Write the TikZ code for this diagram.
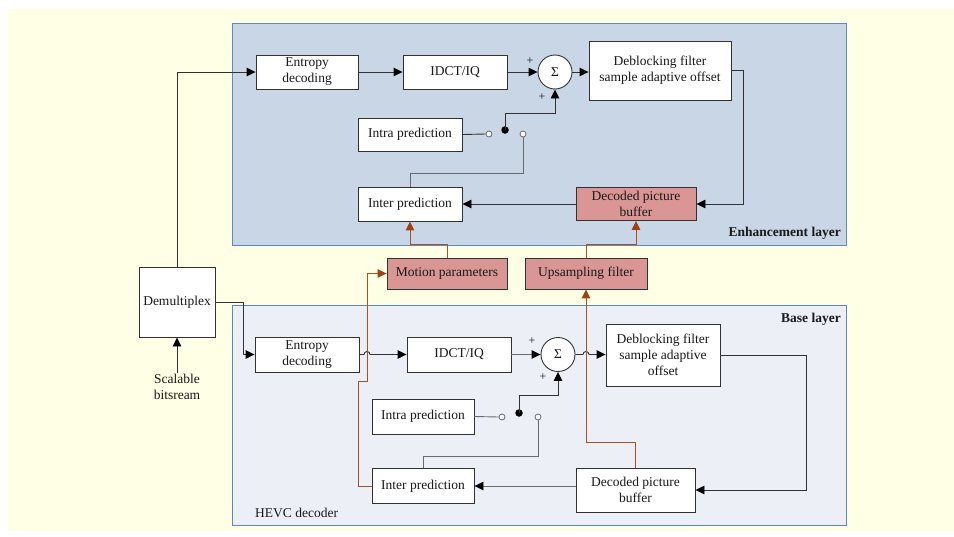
\documentclass[tikz,border=0pt]{standalone}
\usepackage{fontspec}
\setmainfont{Liberation Serif}
\usetikzlibrary{arrows.meta,calc}

\definecolor{bgyellow}{RGB}{255,255,230}
\definecolor{enhfill}{RGB}{200,214,230}
\definecolor{basefill}{RGB}{236,240,246}
\definecolor{layerborder}{RGB}{95,135,195}
\definecolor{rosefill}{RGB}{217,150,148}
\definecolor{wire}{RGB}{50,50,50}
\definecolor{wirelight}{RGB}{105,105,105}
\definecolor{rust}{RGB}{175,80,35}
\definecolor{rusttip}{RGB}{160,65,20}
\definecolor{ink}{RGB}{25,25,25}

\newcommand{\blkfont}{\fontsize{13.5}{16}\selectfont}
\newcommand{\signfont}{\fontsize{12}{13}\selectfont}

\tikzset{
  blk/.style={draw=wire, line width=0.9pt, fill=white, align=center,
    inner sep=1pt, font=\blkfont, text=ink},
  rosebox/.style={blk, fill=rosefill},
  sumnode/.style={circle, draw=wire, line width=0.9pt, fill=white,
    minimum size=34pt, inner sep=0pt, font=\blkfont, text=ink},
  contact/.style={circle, draw=wirelight, line width=0.8pt, fill=white,
    minimum size=6pt, inner sep=0pt},
  pivot/.style={circle, fill=black, minimum size=7.5pt, inner sep=0pt},
  plain/.style={align=center, font=\blkfont, text=ink, inner sep=1pt},
  sign/.style={font=\signfont, text=ink, inner sep=0pt},
  layertitle/.style={font=\blkfont\bfseries, text=ink, inner sep=1pt},
  blacktip/.style={-{Triangle[length=9pt,width=8.5pt,color=black]}},
  flow/.style={draw=wire, line width=0.9pt, blacktip},
  wireline/.style={draw=wire, line width=0.9pt},
  lightline/.style={draw=wirelight, line width=0.9pt},
  lightflow/.style={lightline, blacktip},
  rustflow/.style={draw=rust, line width=1pt,
    -{Triangle[length=9pt,width=8.5pt,color=rusttip]}},
}

\begin{document}
\begin{tikzpicture}[x=1pt, y=-1pt]
  \useasboundingbox (0,0) rectangle (954,536);

  % page and layer panels
  \fill[bgyellow] (8,9) rectangle (954,531);
  \draw[layerborder, line width=1pt, fill=enhfill] (232,23) rectangle (846,245);
  \draw[layerborder, line width=1pt, fill=basefill] (232,305) rectangle (846,525);

  \node[layertitle, anchor=east] (enhlab) at (842,233) {Enhancement layer};
  \node[layertitle, anchor=east] (baselab) at (842,319) {Base layer};
  \node[plain, anchor=west] (hevclab) at (254,513) {HEVC decoder};

  % enhancement layer blocks
  \node[blk, minimum width=102pt, minimum height=34pt] (ent1) at (307,72) {Entropy\\decoding};
  \node[blk, minimum width=104pt, minimum height=34pt] (idct1) at (455,72) {IDCT/IQ};
  \node[sumnode] (sig1) at (555,72) {Σ};
  \node[blk, minimum width=142pt, minimum height=59pt] (dbf1) at (660,70.5) {Deblocking filter\\sample adaptive offset};
  \node[blk, minimum width=104pt, minimum height=33pt] (intra1) at (410,134.5) {Intra prediction};
  \node[blk, minimum width=104pt, minimum height=34pt] (inter1) at (410,204) {Inter prediction};
  \node[rosebox, minimum width=120pt, minimum height=33pt] (dpb1) at (636,204) {Decoded picture\\buffer};
  \node[contact] (o1) at (489,134) {};
  \node[pivot] (d1) at (505,130) {};
  \node[contact] (o2) at (523,134) {};
  \node[sign] (p1) at (530,61) {+};
  \node[sign] (p2) at (542,97) {+};

  % inter-layer blocks
  \node[rosebox, minimum width=120pt, minimum height=31pt] (motion) at (447,273.5) {Motion parameters};
  \node[rosebox, minimum width=122pt, minimum height=31pt] (ups) at (586,273.5) {Upsampling filter};

  % demultiplexer and input
  \node[blk, minimum width=76pt, minimum height=70pt] (demux) at (177,302) {Demultiplex};
  \node[plain] (src) at (177,387) {Scalable\\bitsream};

  % base layer blocks
  \node[blk, minimum width=104pt, minimum height=35pt] (ent2) at (307,354.5) {Entropy\\decoding};
  \node[blk, minimum width=104pt, minimum height=35pt] (idct2) at (459,354.5) {IDCT/IQ};
  \node[sumnode] (sig2) at (558,354.5) {Σ};
  \node[blk, minimum width=114pt, minimum height=62pt] (dbf2) at (663,355) {Deblocking filter\\sample adaptive\\offset};
  \node[blk, minimum width=102pt, minimum height=35pt] (intra2) at (423,416.5) {Intra prediction};
  \node[blk, minimum width=102pt, minimum height=35pt] (inter2) at (423,486) {Inter prediction};
  \node[blk, minimum width=119pt, minimum height=44pt] (dpb2) at (635.5,490) {Decoded picture\\buffer};
  \node[contact] (o3) at (502,417) {};
  \node[pivot] (d2) at (519,413) {};
  \node[contact] (o4) at (538,417) {};
  \node[sign] (p3) at (532,341) {+};
  \node[sign] (p4) at (543,377) {+};

  % routing points
  \coordinate (enhbus) at (0,244);
  \coordinate (loop1) at (743,0);
  \coordinate (loop2) at (806,0);
  \coordinate (split) at (243,302);
  \coordinate (hopA) at (364,354.5);
  \coordinate (hopB) at (583,354.5);
  \coordinate (rA) at (358,381);
  \coordinate (rB) at (367,273.5);
  \coordinate (rC) at (586,442);

  % enhancement layer connections
  \draw[flow] (demux.north) |- (ent1.west);
  \draw[flow] (ent1) -- (idct1);
  \draw[flow] (idct1) -- (sig1);
  \draw[flow] (sig1.east) -- (sig1.east -| dbf1.west);
  \draw[flow] (dbf1.east) -- (dbf1.east -| loop1) |- (dpb1.east);
  \draw[flow] (dpb1) -- (inter1);
  \draw[wireline] (intra1.east) -- (o1.west);
  \draw[flow] (d1.center) -- ++(0,-17) -| (sig1.south);
  \draw[lightline] (o2.south) -- ++(0,36) -| (inter1.north);

  % base layer connections
  \draw[flow] (demux.east) -- (split) |- (ent2.west);
  \draw[flow] (ent2.east) -- (hopA) arc[start angle=180, end angle=360, radius=3] -- (idct2.west);
  \draw[lightflow] (idct2) -- (sig2);
  \draw[flow] (sig2.east) -- (hopB) arc[start angle=180, end angle=360, radius=3] -- (sig2.east -| dbf2.west);
  \draw[flow] (dbf2.east) -- (dbf2.east -| loop2) |- (dpb2.east);
  \draw[lightflow] (dpb2.west |- inter2.east) -- (inter2.east);
  \draw[lightline] (intra2.east) -- (o3.west);
  \draw[flow] (d2.center) -- ++(0,-18) -| (sig2.south);
  \draw[lightline] (o4.south) -- ++(0,36) -| (inter2.north);
  \draw[flow] (src.north) -- (demux.south);

  % inter-layer prediction paths
  \draw[rustflow] (inter2.west) -| (rA) -| (rB) -- (motion.west);
  \draw[rustflow] (dpb2.north) |- (rC) -- (ups.south);
  \draw[rustflow] (motion.north) -- (motion.north |- enhbus) -| (inter1.south);
  \draw[rustflow] (ups.north) -- (ups.north |- enhbus) -| (dpb1.south);
\end{tikzpicture}
\end{document}
